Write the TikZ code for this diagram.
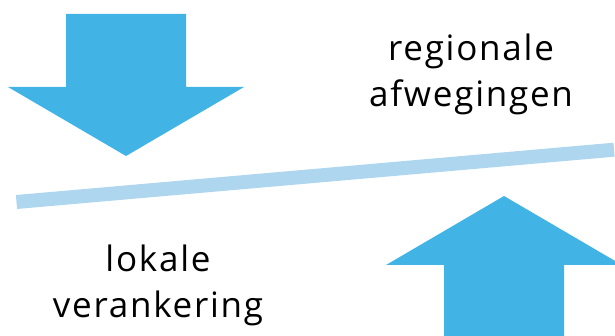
\documentclass[tikz,border=0pt]{standalone}
\usepackage{fontspec}
\setmainfont{Open Sans}[LetterSpace=5]
\definecolor{arrowblue}{HTML}{41B4E5}
\definecolor{barblue}{HTML}{AED7EF}
\begin{document}
\begin{tikzpicture}[x=1pt,y=-1pt,
  bigarrow/.style={fill=arrowblue,draw=none},
  label/.style={align=center,font=\fontsize{35}{46}\selectfont,inner sep=0pt}]
\useasboundingbox (0,0) rectangle (615,336);
% down arrow
\fill[bigarrow] (66,14) -- (186,14) -- (186,87) -- (244,87) -- (126,156) -- (8,87) -- (66,87) -- cycle;
% up arrow
\begin{scope}
\clip (0,0) rectangle (615,336);
\fill[bigarrow] (444,336) -- (564,336) -- (564,265) -- (622,265) -- (504,196) -- (386,265) -- (444,265) -- cycle;
\end{scope}
% balance bar
\coordinate (barL) at (16.5,202);
\coordinate (barR) at (614,149.7);
\draw[barblue,line width=14pt] (barL) -- (barR);
% labels
\node[label,anchor=base] (reg) at (471,107) {regionale\\afwegingen};
\node[label,anchor=base] (lok) at (158,317) {lokale\\verankering};
\end{tikzpicture}
\end{document}
